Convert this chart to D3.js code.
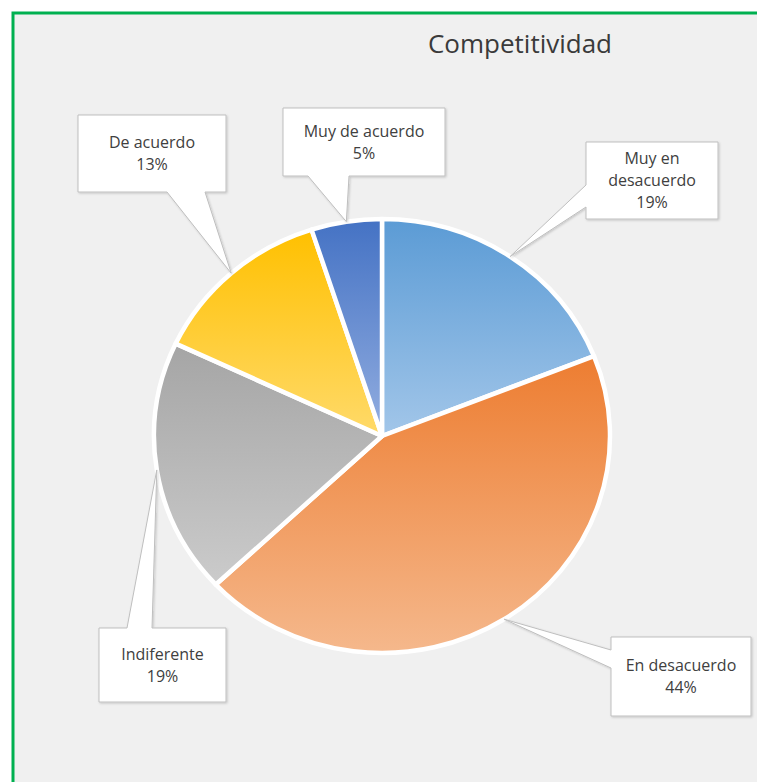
<!DOCTYPE html>
<html>
<head>
<meta charset="utf-8">
<script src="https://cdn.jsdelivr.net/npm/d3@7"></script>
<style>
  html, body { margin: 0; padding: 0; background: #ffffff; }
  svg { display: block; }
</style>
</head>
<body>
<script>
// ---- data ----
const title = "Competitividad";
const categories = ["Muy en desacuerdo", "En desacuerdo", "Indiferente", "De acuerdo", "Muy de acuerdo"];
const values = [19, 44, 19, 13, 5];
const labelLines = [["Muy en", "desacuerdo", "19%"], ["En desacuerdo", "44%"], ["Indiferente", "19%"], ["De acuerdo", "13%"], ["Muy de acuerdo", "5%"]];
const colorTop = ["#5b9bd5", "#ed7d31", "#a5a5a5", "#ffc000", "#4472c4"];
const colorBottom = ["#a2c6e9", "#f5b88c", "#cbcbcb", "#ffda6a", "#93aee0"];

// ---- layout (annotation boxes) ----
const boxes = [
  {x: 586, y: 142, w: 132, h: 77, side: "left",   b: [185, 207]},
  {x: 611, y: 637, w: 140, h: 79, side: "left",   b: [650, 668]},
  {x: 99,  y: 628, w: 127, h: 74, side: "top",    b: [127, 152]},
  {x: 78,  y: 115, w: 148, h: 77, side: "bottom", b: [167, 205]},
  {x: 283, y: 108, w: 162, h: 68, side: "bottom", b: [308, 349]}
];

const W = 757, H = 782;
const cx = 382, cy = 436, ry = 217, rx = 228;
const sx = rx / ry;

const svg = d3.select("body").append("svg").attr("width", W).attr("height", H);
const defs = svg.append("defs");

// background
svg.append("rect").attr("x", 0).attr("y", 0).attr("width", W).attr("height", H).attr("fill", "#ffffff");
svg.append("rect").attr("x", 13).attr("y", 13).attr("width", W + 20).attr("height", H + 20)
  .attr("fill", "#f0f0f0").attr("stroke", "#00b050").attr("stroke-width", 3);

// gradients
values.forEach((v, i) => {
  const g = defs.append("linearGradient").attr("id", "g" + i)
    .attr("x1", 0).attr("y1", 0).attr("x2", 0).attr("y2", 1);
  g.append("stop").attr("offset", "0%").attr("stop-color", colorTop[i]);
  g.append("stop").attr("offset", "100%").attr("stop-color", colorBottom[i]);
});

const shadow = defs.append("filter").attr("id", "sh").attr("x", "-20%").attr("y", "-20%").attr("width", "140%").attr("height", "140%");
shadow.append("feDropShadow").attr("dx", 1).attr("dy", 1).attr("stdDeviation", 1.2)
  .attr("flood-color", "#000").attr("flood-opacity", 0.18);

// title
svg.append("text").attr("x", 520).attr("y", 53).attr("text-anchor", "middle")
  .attr("font-family", "'Open Sans', 'Liberation Sans', sans-serif").attr("font-size", 26)
  .attr("fill", "#3a3a3a").text(title);

// pie
const pie = d3.pie().sort(null).value(d => d)(values);
const arc = d3.arc().innerRadius(0).outerRadius(ry);

const pg = svg.append("g").attr("transform", `translate(${cx},${cy}) scale(${sx},1)`);
pg.selectAll("path").data(pie).join("path")
  .attr("d", arc)
  .attr("fill", (d, i) => `url(#g${i})`)
  .attr("stroke", "#ffffff").attr("stroke-width", 4.5)
  .attr("vector-effect", "non-scaling-stroke")
  .attr("stroke-linejoin", "round");

// callouts
const font = "'Open Sans', 'Liberation Sans', sans-serif";
pie.forEach((d, i) => {
  const mid = (d.startAngle + d.endAngle) / 2;
  const tx = cx + Math.sin(mid) * ry * sx;
  const ty = cy - Math.cos(mid) * ry;
  const bx = boxes[i];
  const x0 = bx.x, y0 = bx.y, x1 = bx.x + bx.w, y1 = bx.y + bx.h;
  const [b0, b1] = bx.b;
  const p = d3.path();
  p.moveTo(x0, y0);
  if (bx.side === "top") { p.lineTo(b0, y0); p.lineTo(tx, ty); p.lineTo(b1, y0); }
  p.lineTo(x1, y0);
  if (bx.side === "right") { p.lineTo(x1, b0); p.lineTo(tx, ty); p.lineTo(x1, b1); }
  p.lineTo(x1, y1);
  if (bx.side === "bottom") { p.lineTo(b1, y1); p.lineTo(tx, ty); p.lineTo(b0, y1); }
  p.lineTo(x0, y1);
  if (bx.side === "left") { p.lineTo(x0, b1); p.lineTo(tx, ty); p.lineTo(x0, b0); }
  p.closePath();
  svg.append("path").attr("d", p.toString())
    .attr("fill", "#ffffff").attr("stroke", "#bfbfbf").attr("stroke-width", 1)
    .attr("filter", "url(#sh)");

  const lines = labelLines[i];
  const lh = 22;
  const ccx = (x0 + x1) / 2, ccy = (y0 + y1) / 2;
  const t = svg.append("text").attr("text-anchor", "middle")
    .attr("font-family", font).attr("font-size", 16).attr("fill", "#404040");
  lines.forEach((ln, k) => {
    t.append("tspan").attr("x", ccx)
      .attr("y", ccy + (k - (lines.length - 1) / 2) * lh)
      .attr("dy", "0.35em").text(ln);
  });
});
</script>
</body>
</html>
